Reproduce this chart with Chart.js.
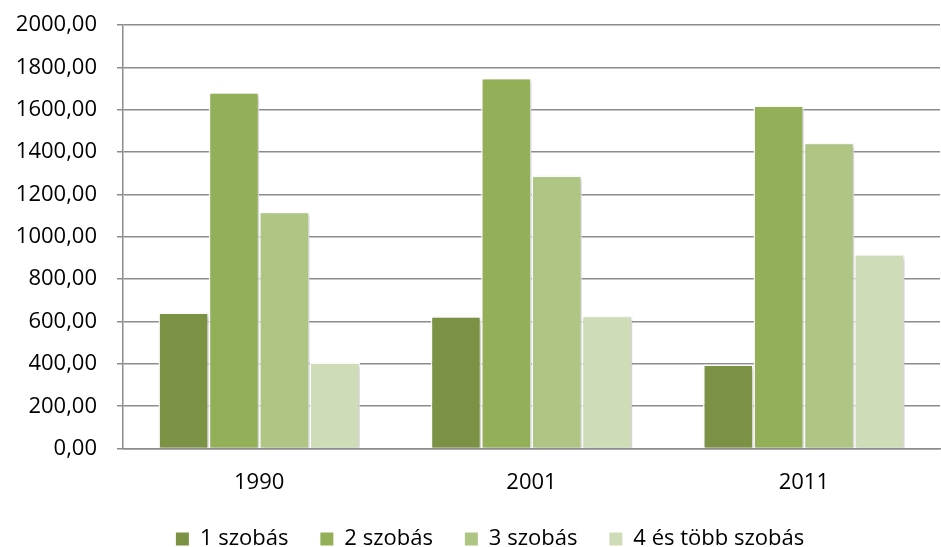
<!DOCTYPE html>
<html>
<head>
<meta charset="utf-8">
<script src="https://cdn.jsdelivr.net/npm/chart.js@4"></script>
<style>
  html, body { margin: 0; padding: 0; background: #fff; }
  canvas { display: block; }
</style>
</head>
<body>
<canvas id="roomsChart" width="941" height="547"></canvas>
<script>
const years = ['1990', '2001', '2011']
const seriesNames = ['1 szobás', '2 szobás', '3 szobás', '4 és több szobás']
const oneRoom = [643, 625, 397]
const twoRooms = [1682, 1750, 1620]
const threeRooms = [1118, 1290, 1444]
const fourPlusRooms = [406, 627, 918]
const colors = ['#7b9143', '#93af57', '#aec584', '#cfdcb8']

const FONT = 'Open Sans'

const barShadow = {
    id: 'barShadow',
    beforeDatasetsDraw(chart) {
        const ctx = chart.ctx
        ctx.save()
        ctx.shadowColor = 'rgba(0,0,0,0.22)'
        ctx.shadowBlur = 4
        ctx.shadowOffsetX = 2
        ctx.shadowOffsetY = 2
    },
    afterDatasetsDraw(chart) {
        chart.ctx.restore()
    }
}

// legend in the original sits a bit right of centre
const legendNudge = {
    id: 'legendNudge',
    afterLayout(chart) {
        chart.legend.left += 20
        chart.legend.right += 20
    }
}

const values = [oneRoom, twoRooms, threeRooms, fourPlusRooms]

new Chart(document.getElementById('roomsChart'), {
    type: 'bar',
    data: {
        labels: years,
        datasets: values.map((d, i) => ({
            label: seriesNames[i],
            data: d,
            backgroundColor: colors[i],
            borderColor: '#ffffff',
            borderWidth: 1.5,
            categoryPercentage: 0.74,
            barPercentage: 1.0
        }))
    },
    plugins: [barShadow, legendNudge],
    options: {
        responsive: false,
        animation: false,
        layout: { padding: { top: 25, right: 1, left: 0, bottom: -13 } },
        scales: {
            x: {
                grid: { display: false },
                border: { display: true, color: '#8c8c8c', width: 1.5 },
                ticks: { color: '#000', font: { family: FONT, size: 22 }, padding: 13 },
                afterFit(scale) { scale.height -= 13 }
            },
            y: {
                min: 0,
                max: 2000,
                afterFit(scale) {
                    scale.width = 123
                    scale.paddingTop = 0
                },
                ticks: {
                    stepSize: 200,
                    color: '#000',
                    padding: 20,
                    font: { family: FONT, size: 22 },
                    callback: v => v.toFixed(2).replace('.', ',')
                },
                grid: { color: '#8c8c8c', lineWidth: 1.5, tickLength: 6 },
                border: { display: true, color: '#8c8c8c', width: 1.5 }
            }
        },
        plugins: {
            legend: {
                position: 'bottom',
                labels: {
                    color: '#000',
                    font: { family: FONT, size: 22 },
                    boxWidth: 13,
                    boxHeight: 13,
                    padding: 32,
                    generateLabels(chart) {
                        const items = Chart.defaults.plugins.legend.labels.generateLabels(chart)
                        items.forEach(it => { it.lineWidth = 0 })
                        return items
                    }
                }
            },
            tooltip: { enabled: false }
        }
    }
})
</script>
</body>
</html>
